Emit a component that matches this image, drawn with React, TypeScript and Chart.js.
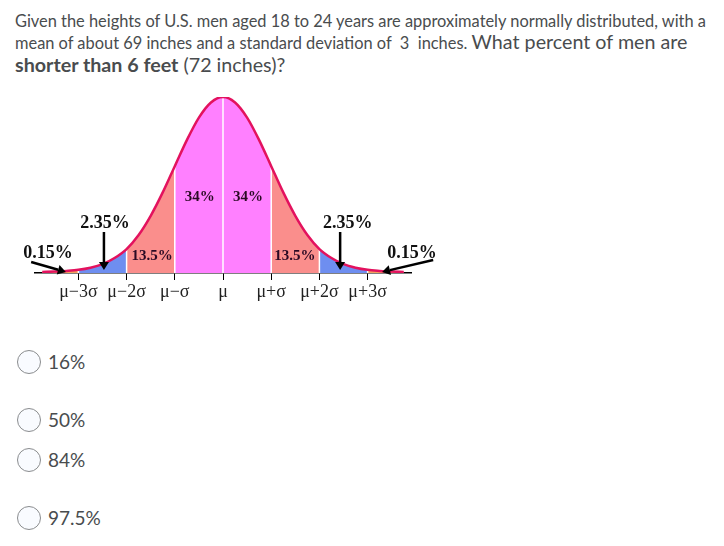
import React, { useEffect, useRef } from "react";
import { Chart, registerables } from "chart.js";
Chart.register(...registerables);

// Curve: x in σ units from the mean, height relative to the peak
const zValues = [-3.75, -3.5, -3.25, -3, -2.75, -2.5, -2.25, -2, -1.75, -1.5, -1.25, -1, -0.75, -0.5, -0.25, 0,
  0.25, 0.5, 0.75, 1, 1.25, 1.5, 1.75, 2, 2.25, 2.5, 2.75, 3, 3.25, 3.5, 3.75];
const heights = [0.006, 0.008, 0.012, 0.018, 0.03, 0.05, 0.085, 0.136, 0.216, 0.325, 0.458, 0.607, 0.755, 0.883, 0.969, 1,
  0.969, 0.883, 0.755, 0.607, 0.458, 0.325, 0.216, 0.136, 0.085, 0.05, 0.03, 0.018, 0.012, 0.008, 0.006];

const regionBounds = [-3.75, -3, -2, -1, 0, 1, 2, 3, 3.75];
const regionColors = ["#F2A15E", "#6E8EF0", "#FA8E8C", "#FF80FF", "#FF80FF", "#FA8E8C", "#6E8EF0", "#F2A15E"];
const dividerZ = [-3, -2, -1, 0, 1, 2, 3];

const tickValues = [-3, -2, -1, 0, 1, 2, 3];
const tickLabels = ["μ−3σ", "μ−2σ", "μ−σ", "μ", "μ+σ", "μ+2σ", "μ+3σ"];

const percentLabels = ["0.15%", "2.35%", "13.5%", "34%", "34%", "13.5%", "2.35%", "0.15%"];
const labelX = [-3.63, -2.45, -1.47, -0.48, 0.52, 1.49, 2.59, 3.92];
const labelY = [0.114, 0.28, 0.097, 0.43, 0.43, 0.097, 0.28, 0.114];
const labelSize = [18, 18, 15, 15, 15, 15, 18, 18];

const arrowFromX = [-3.98, -2.47, 2.43, 4.36];
const arrowFromY = [0.0625, 0.233, 0.233, 0.074];
const arrowToX = [-3.26, -2.47, 2.43, 3.3];
const arrowToY = [0.006, 0.017, 0.017, 0.006];

const answerChoices = ["16%", "50%", "84%", "97.5%"];
const answerTops = [362, 420, 460, 518];

const SERIF = "'Liberation Serif', 'Times New Roman', serif";

const annotationPlugin = {
  id: "annotations",
  afterDraw(chart: any) {
    const { ctx } = chart;
    const xs = chart.scales.x;
    const ys = chart.scales.y;
    ctx.save();
    // arrows
    ctx.strokeStyle = "#000";
    ctx.fillStyle = "#000";
    for (let i = 0; i < arrowFromX.length; i++) {
      const x1 = xs.getPixelForValue(arrowFromX[i]);
      const y1 = ys.getPixelForValue(arrowFromY[i]);
      const x2 = xs.getPixelForValue(arrowToX[i]);
      const y2 = ys.getPixelForValue(arrowToY[i]);
      const ang = Math.atan2(y2 - y1, x2 - x1);
      const len = 8;
      const hw = 5;
      const bx = x2 - len * Math.cos(ang);
      const by = y2 - len * Math.sin(ang);
      ctx.lineWidth = 2.5;
      ctx.beginPath();
      ctx.moveTo(x1, y1);
      ctx.lineTo(bx, by);
      ctx.stroke();
      ctx.beginPath();
      ctx.moveTo(x2, y2);
      ctx.lineTo(bx + hw * Math.sin(ang), by - hw * Math.cos(ang));
      ctx.lineTo(bx - hw * Math.sin(ang), by + hw * Math.cos(ang));
      ctx.closePath();
      ctx.fill();
    }
    // percent labels
    ctx.textAlign = "center";
    ctx.textBaseline = "middle";
    for (let i = 0; i < percentLabels.length; i++) {
      ctx.font = `bold ${labelSize[i]}px ${SERIF}`;
      ctx.fillStyle = labelSize[i] === 15 ? "#2a0a24" : "#111";
      ctx.fillText(percentLabels[i], xs.getPixelForValue(labelX[i]), ys.getPixelForValue(labelY[i]));
    }
    ctx.restore();
  },
};

function NormalChart() {
  const ref = useRef<HTMLCanvasElement>(null);
  useEffect(() => {
    if (!ref.current) return;
    const points = zValues.map((z, i) => ({ x: z, y: heights[i] }));
    const regionSets = regionColors.map((c, r) => ({
      data: points.filter((p) => p.x >= regionBounds[r] - 1e-9 && p.x <= regionBounds[r + 1] + 1e-9),
      backgroundColor: c,
      borderWidth: 0,
      borderColor: c,
      fill: "origin",
      pointRadius: 0,
      cubicInterpolationMode: "monotone",
      order: 2,
    }));
    const dividerSets = dividerZ.map((z) => ({
      data: [
        { x: z, y: 0 },
        { x: z, y: heights[zValues.indexOf(z)] },
      ],
      borderColor: "#ffffff",
      borderWidth: 1.5,
      pointRadius: 0,
      fill: false,
      order: 1,
    }));
    const outline = {
      data: points,
      borderColor: "#E3125E",
      borderWidth: 2.5,
      pointRadius: 0,
      fill: false,
      cubicInterpolationMode: "monotone",
      order: 0,
    };
    const chart = new Chart(ref.current, {
      type: "line",
      data: { datasets: [outline, ...dividerSets, ...regionSets] as any },
      options: {
        animation: false,
        responsive: false,
        devicePixelRatio: 1,
        layout: { padding: { left: 35, right: 49, top: 17, bottom: 7 } },
        plugins: { legend: { display: false }, tooltip: { enabled: false } },
        scales: {
          x: {
            type: "linear",
            min: -3.9,
            max: 3.9,
            afterBuildTicks: (s: any) => {
              s.ticks = tickValues.map((v) => ({ value: v }));
            },
            afterFit: (s: any) => {
              s.height = 40;
            },
            ticks: {
              autoSkip: false,
              maxRotation: 0,
              padding: 1,
              color: "#222",
              font: { family: SERIF, size: 18 },
              callback: (v: any) => tickLabels[tickValues.indexOf(Math.round(Number(v)))] ?? "",
            },
            grid: { display: true, drawOnChartArea: false, drawTicks: true, tickLength: 7, color: "#000", lineWidth: 1 },
            border: { display: true, color: "#000", width: 1.5 },
          },
          y: { display: false, min: 0, max: 1 },
        },
      },
      plugins: [annotationPlugin],
    });
    return () => chart.destroy();
  }, []);
  return <canvas ref={ref} width={460} height={240} style={{ position: "absolute", left: 0, top: 80, width: 460, height: 240 }} />;
}

export default function App() {
  const text = "#494c4e";
  const font = "Lato, 'Open Sans', sans-serif";
  return (
    <div style={{ position: "absolute", left: 0, top: 0, width: 724, height: 546, background: "#fff", fontFamily: font, color: text }}>
      <div style={{ position: "absolute", left: 15, top: 10.5, whiteSpace: "nowrap", fontSize: 16.4, lineHeight: "20px" }}>
        Given the heights of U.S. men aged 18 to 24 years are approximately normally distributed, with a
      </div>
      <div style={{ position: "absolute", left: 15, top: 30, whiteSpace: "nowrap", fontSize: 19.7, lineHeight: "24px" }}>
        <span style={{ fontSize: 16.4 }}>mean of about 69 inches and a standard deviation of&nbsp; 3&nbsp; inches. </span>
        What percent of men are
      </div>
      <div style={{ position: "absolute", left: 15, top: 53, whiteSpace: "nowrap", fontSize: 19.7, lineHeight: "24px" }}>
        <b>shorter than 6 feet</b> (72 inches)?
      </div>
      <NormalChart />
      {answerChoices.map((a, i) => (
        <div key={a} style={{ position: "absolute", left: 17, top: answerTops[i] - 12, height: 24 }}>
          <div style={{ position: "absolute", left: 0, top: 0, width: 22, height: 22, borderRadius: "50%", border: "1px solid #8a8c8e", background: "#f9fbff" }} />
          <div style={{ position: "absolute", left: 31, top: 0, lineHeight: "24px", fontSize: 19, whiteSpace: "nowrap" }}>{a}</div>
        </div>
      ))}
    </div>
  );
}
